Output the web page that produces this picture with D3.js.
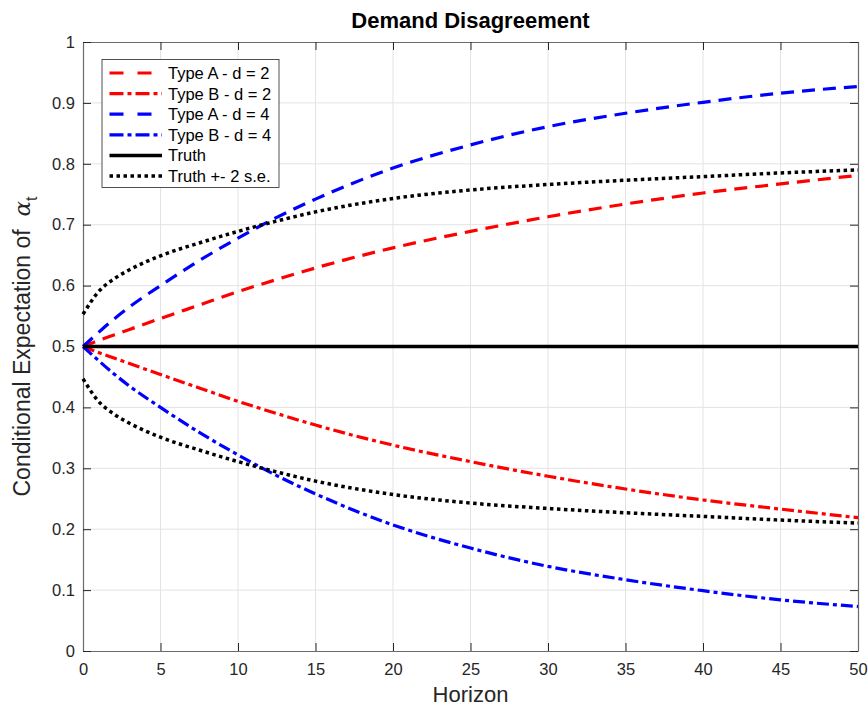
<!DOCTYPE html>
<html>
<head>
<meta charset="utf-8">
<script src="https://cdn.jsdelivr.net/npm/d3@7"></script>
<style>
  html, body { margin: 0; padding: 0; background: #fff; }
  svg { display: block; font-family: "Liberation Sans", Arial, Helvetica, sans-serif; }
</style>
</head>
<body>
<svg id="chart" width="868" height="709"></svg>
<script>
// Forecast horizons at which each series is sampled
const horizons = [0, 1, 2, 3, 5, 7.5, 10, 12.5, 15, 20, 25, 30, 35, 40, 45, 50];

// Conditional expectation of alpha_t for each agent type and d
const typeA_d2 = [0.5, 0.510, 0.519, 0.528, 0.546, 0.568, 0.590, 0.610, 0.629, 0.662, 0.689, 0.713, 0.734, 0.752, 0.767, 0.781];
const typeB_d2 = [0.5, 0.490, 0.481, 0.472, 0.454, 0.432, 0.410, 0.390, 0.371, 0.338, 0.311, 0.287, 0.266, 0.248, 0.233, 0.219];
const typeA_d4 = [0.5, 0.523, 0.545, 0.565, 0.600, 0.641, 0.678, 0.712, 0.742, 0.793, 0.831, 0.861, 0.883, 0.901, 0.916, 0.927];
const typeB_d4 = [0.5, 0.477, 0.455, 0.435, 0.400, 0.359, 0.322, 0.288, 0.258, 0.207, 0.169, 0.139, 0.117, 0.099, 0.084, 0.073];
const truth    = [0.5, 0.5, 0.5, 0.5, 0.5, 0.5, 0.5, 0.5, 0.5, 0.5, 0.5, 0.5, 0.5, 0.5, 0.5, 0.5];
const truthUp  = [0.553, 0.590, 0.611, 0.626, 0.649, 0.670, 0.689, 0.706, 0.721, 0.743, 0.757, 0.766, 0.773, 0.779, 0.785, 0.790];
const truthLo  = [0.447, 0.410, 0.389, 0.374, 0.351, 0.330, 0.311, 0.294, 0.279, 0.257, 0.243, 0.234, 0.227, 0.221, 0.215, 0.210];

// Axis ticks
const xTicks = [0, 5, 10, 15, 20, 25, 30, 35, 40, 45, 50];
const yTicks = [0, 0.1, 0.2, 0.3, 0.4, 0.5, 0.6, 0.7, 0.8, 0.9, 1];

const seriesNames = ["Type A - d = 2", "Type B - d = 2", "Type A - d = 4", "Type B - d = 4", "Truth", "Truth +- 2 s.e."];

const svg = d3.select("#chart");
const margin = { left: 83, right: 10, top: 42, bottom: 58 };
const W = 868, H = 709;
const x = d3.scaleLinear().domain([0, 50]).range([margin.left, W - margin.right]);
const y = d3.scaleLinear().domain([0, 1]).range([H - margin.bottom, margin.top]);

const axisColor = "#262626";
const gridColor = "#e3e3e3";
const tickLen = 8;

// Grid lines
const grid = svg.append("g");
grid.selectAll(".gx").data(xTicks.slice(1, -1)).join("line")
  .attr("x1", d => x(d)).attr("x2", d => x(d))
  .attr("y1", y(0)).attr("y2", y(1))
  .attr("stroke", gridColor).attr("stroke-width", 1);
grid.selectAll(".gy").data(yTicks.slice(1, -1)).join("line")
  .attr("x1", x(0)).attr("x2", x(50))
  .attr("y1", d => y(d)).attr("y2", d => y(d))
  .attr("stroke", gridColor).attr("stroke-width", 1);

// Axes: ticks point inward, mirrored on top and right
const fmt = d => d3.format("")(+d.toFixed(1));
const axBottom = svg.append("g").attr("transform", `translate(0,${y(0)})`)
  .call(d3.axisBottom(x).tickValues(xTicks).tickSizeInner(-tickLen).tickSizeOuter(0).tickPadding(12).tickFormat(fmt));
const axTop = svg.append("g").attr("transform", `translate(0,${y(1)})`)
  .call(d3.axisTop(x).tickValues(xTicks).tickSizeInner(-tickLen).tickSizeOuter(0).tickFormat(""));
const axLeft = svg.append("g").attr("transform", `translate(${x(0)},0)`)
  .call(d3.axisLeft(y).tickValues(yTicks).tickSizeInner(-tickLen).tickSizeOuter(0).tickPadding(8).tickFormat(fmt));
const axRight = svg.append("g").attr("transform", `translate(${x(50)},0)`)
  .call(d3.axisRight(y).tickValues(yTicks).tickSizeInner(-tickLen).tickSizeOuter(0).tickFormat(""));

[axBottom, axTop, axLeft, axRight].forEach(g => {
  g.select(".domain").attr("stroke", "#6b6b6b").attr("stroke-width", 1.2);
  g.selectAll(".tick line").attr("stroke", axisColor).attr("stroke-width", 1);
  g.selectAll(".tick text").attr("fill", axisColor).attr("font-size", 16.5)
    .attr("font-family", "'Liberation Sans', Arial, sans-serif");
});

// Series definitions
const styles = [
  { vals: typeA_d2, color: "#ff0000", dash: "13,8", width: 3.2 },
  { vals: typeB_d2, color: "#ff0000", dash: "12,4,4,4", width: 3.2 },
  { vals: typeA_d4, color: "#0000ff", dash: "13,8", width: 3.2 },
  { vals: typeB_d4, color: "#0000ff", dash: "12,4,4,4", width: 3.2 },
  { vals: truth,    color: "#000000", dash: null, width: 3.5 },
  { vals: truthUp,  color: "#000000", dash: "3.5,3.5", width: 3.5 },
  { vals: truthLo,  color: "#000000", dash: "3.5,3.5", width: 3.5 }
];

const line = d3.line()
  .x((d, i) => x(horizons[i]))
  .y(d => y(d))
  .curve(d3.curveMonotoneX);

const plot = svg.append("g");
styles.forEach(s => {
  plot.append("path")
    .datum(s.vals)
    .attr("d", line)
    .attr("fill", "none")
    .attr("stroke", s.color)
    .attr("stroke-width", s.width)
    .attr("stroke-dasharray", s.dash)
    .attr("stroke-linecap", "butt");
});

// Title
svg.append("text")
  .attr("x", (x(0) + x(50)) / 2).attr("y", 28)
  .attr("text-anchor", "middle")
  .attr("font-size", 22).attr("font-weight", "bold").attr("fill", "#000")
  .text("Demand Disagreement");

// Axis labels
svg.append("text")
  .attr("x", (x(0) + x(50)) / 2).attr("y", 702)
  .attr("text-anchor", "middle")
  .attr("font-size", 22).attr("fill", axisColor)
  .text("Horizon");

const yl = svg.append("text")
  .attr("transform", `translate(30,${(y(0) + y(1)) / 2}) rotate(-90)`)
  .attr("text-anchor", "middle")
  .attr("font-size", 23).attr("fill", axisColor);
yl.append("tspan").text("Conditional Expectation of\u00a0\u00a0");
yl.append("tspan").attr("font-family", "'DejaVu Serif', serif").attr("font-style", "italic").text("α");
yl.append("tspan").attr("font-size", 16).attr("dy", 7).text("t");

// Legend
const lg = svg.append("g").attr("transform", "translate(102,59.5)");
lg.append("rect").attr("width", 177).attr("height", 128)
  .attr("fill", "#fff").attr("stroke", axisColor).attr("stroke-width", 0.8);
const legendItems = [
  { name: seriesNames[0], s: styles[0], dash: "14,14" },
  { name: seriesNames[1], s: styles[1], dash: "14,4,4,4" },
  { name: seriesNames[2], s: styles[2], dash: "14,14" },
  { name: seriesNames[3], s: styles[3], dash: "14,4,4,4" },
  { name: seriesNames[4], s: styles[4], dash: null },
  { name: seriesNames[5], s: styles[5], dash: "3.5,3.5" }
];
legendItems.forEach((it, i) => {
  const yy = 13.5 + i * 20.6;
  lg.append("line")
    .attr("x1", 7.5).attr("x2", 60).attr("y1", yy).attr("y2", yy)
    .attr("stroke", it.s.color).attr("stroke-width", it.s.width)
    .attr("stroke-dasharray", it.dash);
  lg.append("text")
    .attr("x", 66).attr("y", yy + 6)
    .attr("font-size", 16.5).attr("fill", "#000")
    .text(it.name);
});
</script>
</body>
</html>
